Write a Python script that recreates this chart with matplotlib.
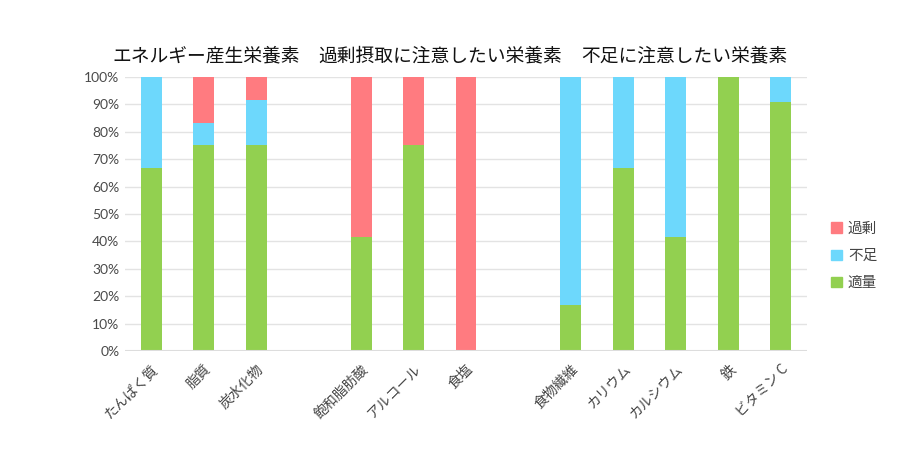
import numpy as np
import matplotlib.pyplot as plt
from matplotlib.patches import Patch

plt.rcParams['font.family'] = ['Noto Sans CJK JP', 'DejaVu Sans']

# data (percent)
categories = ["たんぱく質", "脂質", "炭水化物", "",
              "飽和脂肪酸", "アルコール", "食塩", "",
              "食物繊維", "カリウム", "カルシウム", "鉄", "ビタミンC"]
tekiryo = [66.7, 75, 75, 0, 41.7, 75, 0, 0, 16.7, 66.7, 41.7, 100, 91]
fusoku = [33.3, 8.3, 16.7, 0, 0, 0, 0, 0, 83.3, 33.3, 58.3, 0, 9]
kajo = [0, 16.7, 8.3, 0, 58.3, 25, 100, 0, 0, 0, 0, 0, 0]
group_titles = ["エネルギー産生栄養素", "過剰摂取に注意したい栄養素", "不足に注意したい栄養素"]
title_pos = [1.05, 5.5, 10.17]

c_green = "#92D050"
c_blue = "#6DD8FC"
c_red = "#FF7B80"

fig = plt.figure(figsize=(9.2, 4.58), dpi=100)
ax = fig.add_axes([125 / 920, 1 - 351 / 458, 682 / 920, 274 / 458])

x = np.arange(len(categories))
g = np.array(tekiryo)
b = np.array(fusoku)
r = np.array(kajo)
w = 0.4
ax.bar(x, g, w, color=c_green, zorder=3)
ax.bar(x, b, w, bottom=g, color=c_blue, zorder=3)
ax.bar(x, r, w, bottom=g + b, color=c_red, zorder=3)

ax.set_xlim(-0.5, len(categories) - 0.5)
ax.set_ylim(0, 100)
ax.set_yticks(np.arange(0, 101, 10))
ax.set_yticklabels([f"{v}%" for v in range(0, 101, 10)], family=['Lato', 'DejaVu Sans'],
                   fontsize=10, color="#4a4a4a")
ax.yaxis.grid(True, color="#e3e3e3", lw=1, zorder=0)
for s in ax.spines.values():
    s.set_visible(False)
ax.axhline(0, color="#dddddd", lw=1.5, zorder=4)
ax.tick_params(length=0, pad=4)

ax.set_xticks(x)
ax.set_xticklabels([c if c != "ビタミンC" else "ビタミン C" for c in categories],
                   rotation=45, ha='right', rotation_mode='anchor',
                   fontsize=10, color="#444444")
ax.tick_params(axis='x', pad=8)

for t, p in zip(group_titles, title_pos):
    ax.text(p, 104, t, ha='center', va='bottom', fontsize=13.5, color="#111111")

handles = [Patch(color=c_red, label="過剰"), Patch(color=c_blue, label="不足"),
           Patch(color=c_green, label="適量")]
fig.legend(handles=handles, loc='center left', bbox_to_anchor=(818 / 920, 1 - 256 / 458),
           frameon=False, fontsize=10.5, handlelength=0.75, handleheight=0.75,
           handletextpad=0.4, labelspacing=0.9, labelcolor="#444444")

fig.savefig("out.png", dpi=100)
